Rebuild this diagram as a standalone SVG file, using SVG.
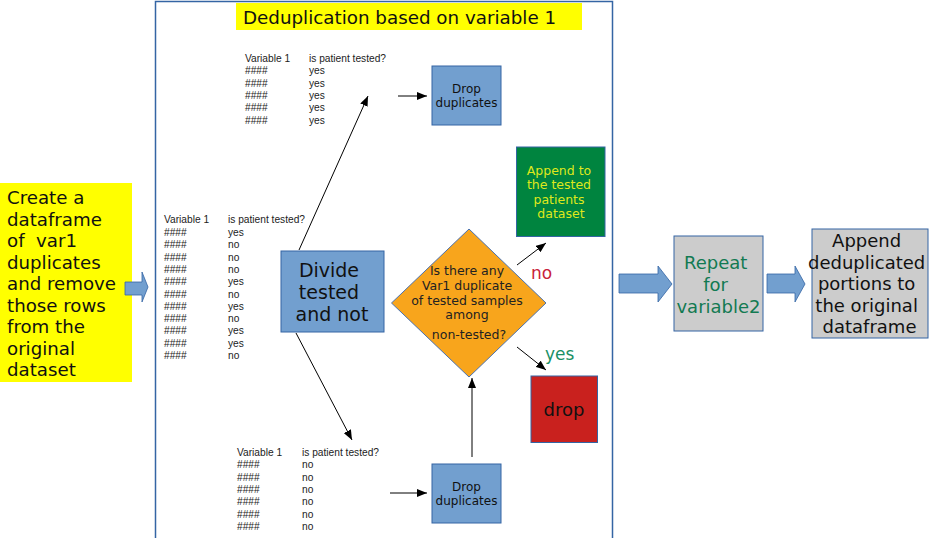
<svg xmlns="http://www.w3.org/2000/svg" width="929" height="538" viewBox="0 0 929 538">
<defs>
<marker id="ah" viewBox="0 0 10 8" refX="10" refY="4" markerWidth="10" markerHeight="8" markerUnits="userSpaceOnUse" orient="auto">
<path d="M0,0 L10,4 L0,8 Z" fill="#000"/>
</marker>
</defs>
<style>
.dv{font-family:"DejaVu Sans","Liberation Sans",sans-serif}
.tb{font-family:"Liberation Sans",Arial,sans-serif;font-size:10.2px;fill:#222}
.bx{fill:#729fcf;stroke:#3465a4;stroke-width:1}
.ln{stroke:#000;stroke-width:1;fill:none;marker-end:url(#ah)}
.blk{fill:#729fcf;stroke:#3465a4;stroke-width:0.8}
.mid{text-anchor:middle}
</style>
<rect width="929" height="538" fill="#fff"/>
<g id="frame">
<path d="M155.5,538 V1.5 H612.5 V538" fill="none" stroke="#3465a4" stroke-width="1.5"/>
</g>
<g id="title">
<rect x="236" y="3" width="346" height="27" fill="#ffff00"/>
<text x="243" y="24" class="dv" font-size="18.3" fill="#111">Deduplication based on variable 1</text>
</g>
<g id="create">
<rect x="0" y="183" width="132" height="199" fill="#ffff00"/>
<text class="dv" font-size="18.2" fill="#111" xml:space="preserve">
<tspan x="7" y="204">Create a</tspan>
<tspan x="7" y="225.5">dataframe</tspan>
<tspan x="7" y="247">of  var1</tspan>
<tspan x="7" y="268.5">duplicates</tspan>
<tspan x="7" y="290">and remove</tspan>
<tspan x="7" y="311.5">those rows</tspan>
<tspan x="7" y="333">from the</tspan>
<tspan x="7" y="354.5">original</tspan>
<tspan x="7" y="376">dataset</tspan>
</text>
</g>
<g id="table-all">
<text class="tb"><tspan x="164" y="223">Variable 1</tspan><tspan x="228" y="223">is patient tested?</tspan></text>
<text class="tb">
<tspan x="164" y="236">####</tspan><tspan x="228" y="236">yes</tspan>
<tspan x="164" y="248.3">####</tspan><tspan x="228" y="248.3">no</tspan>
<tspan x="164" y="260.6">####</tspan><tspan x="228" y="260.6">no</tspan>
<tspan x="164" y="272.9">####</tspan><tspan x="228" y="272.9">no</tspan>
<tspan x="164" y="285.2">####</tspan><tspan x="228" y="285.2">yes</tspan>
<tspan x="164" y="297.5">####</tspan><tspan x="228" y="297.5">no</tspan>
<tspan x="164" y="309.8">####</tspan><tspan x="228" y="309.8">yes</tspan>
<tspan x="164" y="322.1">####</tspan><tspan x="228" y="322.1">no</tspan>
<tspan x="164" y="334.4">####</tspan><tspan x="228" y="334.4">yes</tspan>
<tspan x="164" y="346.7">####</tspan><tspan x="228" y="346.7">yes</tspan>
<tspan x="164" y="359">####</tspan><tspan x="228" y="359">no</tspan>
</text>
</g>
<g id="table-tested">
<text class="tb"><tspan x="245" y="62">Variable 1</tspan><tspan x="309" y="62">is patient tested?</tspan></text>
<text class="tb">
<tspan x="245" y="74.3">####</tspan><tspan x="309" y="74.3">yes</tspan>
<tspan x="245" y="86.6">####</tspan><tspan x="309" y="86.6">yes</tspan>
<tspan x="245" y="98.9">####</tspan><tspan x="309" y="98.9">yes</tspan>
<tspan x="245" y="111.2">####</tspan><tspan x="309" y="111.2">yes</tspan>
<tspan x="245" y="123.5">####</tspan><tspan x="309" y="123.5">yes</tspan>
</text>
</g>
<g id="table-untested">
<text class="tb"><tspan x="237" y="456">Variable 1</tspan><tspan x="302" y="456">is patient tested?</tspan></text>
<text class="tb">
<tspan x="237" y="468.3">####</tspan><tspan x="302" y="468.3">no</tspan>
<tspan x="237" y="480.6">####</tspan><tspan x="302" y="480.6">no</tspan>
<tspan x="237" y="492.9">####</tspan><tspan x="302" y="492.9">no</tspan>
<tspan x="237" y="505.2">####</tspan><tspan x="302" y="505.2">no</tspan>
<tspan x="237" y="517.5">####</tspan><tspan x="302" y="517.5">no</tspan>
<tspan x="237" y="529.8">####</tspan><tspan x="302" y="529.8">no</tspan>
</text>
</g>
<g id="divide">
<rect x="281" y="251" width="103" height="81" class="bx"/>
<text class="dv mid" font-size="19" fill="#111">
<tspan x="332" y="277">Divide</tspan>
<tspan x="332" y="299">tested</tspan>
<tspan x="332" y="321">and not</tspan>
</text>
</g>
<g id="drop-top">
<rect x="432" y="66" width="69" height="59" class="bx"/>
<text class="dv mid" font-size="12" fill="#111"><tspan x="466.5" y="93">Drop</tspan><tspan x="466.5" y="107">duplicates</tspan></text>
</g>
<g id="drop-bottom">
<rect x="432" y="464" width="69" height="59" class="bx"/>
<text class="dv mid" font-size="12" fill="#111"><tspan x="466.5" y="491">Drop</tspan><tspan x="466.5" y="505">duplicates</tspan></text>
</g>
<g id="decision">
<path d="M469,229 L546,303 L469,377 L391.5,303 Z" fill="#f8a51c" stroke="#4a72b0" stroke-width="1"/>
<text class="dv mid" font-size="12.5" fill="#222">
<tspan x="469" y="275">Is there any</tspan>
<tspan x="469" y="289.5">Var1 duplicate</tspan>
<tspan x="469" y="304.5">of tested samples</tspan>
<tspan x="469" y="318.5">among</tspan>
<tspan x="469" y="338.5">non-tested?</tspan>
</text>
</g>
<g id="append-tested">
<rect x="516.5" y="147" width="88.5" height="89.5" fill="#00843f" stroke="#3465a4" stroke-width="1"/>
<text class="dv mid" font-size="12.5" fill="#dfe81c">
<tspan x="561" y="174.5">Append to</tspan>
<tspan x="561" y="189">the tested</tspan>
<tspan x="561" y="203.5">patients</tspan>
<tspan x="561" y="218">dataset</tspan>
</text>
</g>
<g id="drop">
<rect x="531" y="376" width="66.5" height="66.5" fill="#c9211e" stroke="#3465a4" stroke-width="1"/>
<text class="dv mid" font-size="18" fill="#111" x="564" y="416">drop</text>
</g>
<g id="repeat">
<rect x="674" y="236" width="89" height="95" fill="#cccccc" stroke="#3465a4" stroke-width="1"/>
<text class="dv mid" font-size="18" fill="#127a52">
<tspan x="718.5" y="269">Repeat</tspan>
<tspan x="718.5" y="291">for</tspan>
<tspan x="718.5" y="313">variable2</tspan>
</text>
</g>
<g id="append-final">
<rect x="812" y="229" width="116" height="109" fill="#cccccc" stroke="#3465a4" stroke-width="1"/>
<text class="dv mid" font-size="18" fill="#111">
<tspan x="869.5" y="247">Append</tspan>
<tspan x="869.5" y="268.5">deduplicated</tspan>
<tspan x="869.5" y="290">portions to</tspan>
<tspan x="869.5" y="311.5">the original</tspan>
<tspan x="869.5" y="333">dataframe</tspan>
</text>
</g>
<g id="connectors">
<line x1="299" y1="250" x2="368" y2="96" class="ln"/>
<line x1="296" y1="333" x2="352" y2="440" class="ln"/>
<line x1="398" y1="96" x2="427" y2="96" class="ln"/>
<line x1="390" y1="493" x2="427" y2="493" class="ln"/>
<line x1="472" y1="457" x2="472" y2="378" class="ln"/>
<line x1="517" y1="265" x2="546" y2="243" class="ln"/>
<line x1="517" y1="347" x2="546" y2="370" class="ln"/>
<path d="M125,282 H142 V272 L148,287 L142,302 V295 H125 Z" class="blk"/>
<path d="M619,274 H658 V266 L672,284 L658,302 V293 H619 Z" class="blk"/>
<path d="M767,274 H795 V266 L805,284 L795,302 V293 H767 Z" class="blk"/>
<text x="531" y="279" class="dv" font-size="17" fill="#c9213a">no</text>
<text x="545" y="360" class="dv" font-size="17" fill="#1a9065">yes</text>
</g>
</svg>
